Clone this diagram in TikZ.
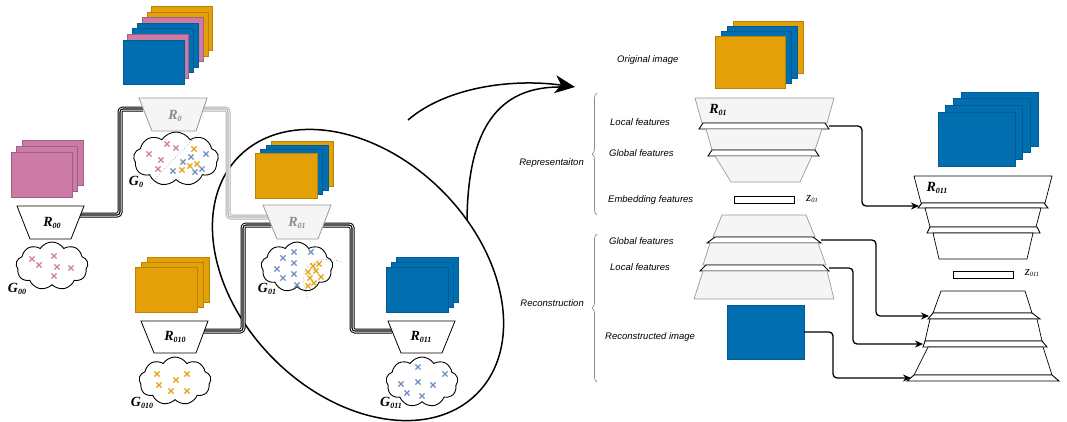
\documentclass[tikz,border=0pt]{standalone}
\usepackage{fontspec}
\setmainfont{Liberation Sans}
\newfontfamily\serifbi{Liberation Serif}
\usetikzlibrary{shapes.symbols,shapes.geometric,arrows.meta,decorations.pathreplacing,calc}
\definecolor{cblue}{HTML}{006EAF}
\definecolor{cblueD}{HTML}{005C94}
\definecolor{corange}{HTML}{E3A008}
\definecolor{corangeD}{HTML}{B98200}
\definecolor{cpink}{HTML}{CD7AA7}
\definecolor{cpinkD}{HTML}{A0607F}
\definecolor{xpink}{HTML}{D07AA6}
\definecolor{xblue}{HTML}{6C8EBF}
\definecolor{xorange}{HTML}{E5A00D}
\definecolor{lgray}{HTML}{F5F5F5}
\definecolor{mgray}{HTML}{8A8A8A}
\definecolor{egray}{HTML}{9A9A9A}
\newcommand\Rl[2]{{\serifbi\bfseries\itshape\fontsize{14}{14}\selectfont #1\raisebox{-1.8pt}{\fontsize{8}{8}\selectfont #2}}}
\newcommand\zl[1]{{\serifbi\itshape\fontsize{13}{13}\selectfont z\raisebox{-1pt}{\fontsize{6.5}{6.5}\selectfont #1}}}
\newcommand\dtxt{\fontsize{9.5}{11}\selectfont\itshape}
\begin{document}
\begin{tikzpicture}[x=1pt,y=-1pt,
  trW/.style={draw=black,fill=white,line width=0.8pt},
  trG/.style={draw=egray,fill=lgray,line width=0.8pt},
  secG/.style={draw=egray,fill=lgray,line width=0.7pt},
  secW/.style={draw=black,fill=white,line width=0.7pt},
  band/.style={draw=black,fill=white,line width=0.9pt},
  linkK/.style={draw=black,line width=1.1pt,rounded corners=3pt,
     preaction={draw=black,line width=5pt},preaction={draw=white,line width=3pt}},
  linkG/.style={draw=egray!80,line width=1.1pt,rounded corners=3pt,
     preaction={draw=egray!80,line width=5pt},preaction={draw=white,line width=3pt}},
  cloudS/.style={cloud,draw=black,fill=white,line width=0.9pt,cloud puffs=9,cloud puff arc=115,cloud ignores aspect,inner sep=0pt},
  arr/.style={draw=black,line width=1.3pt,rounded corners=4pt,-{Stealth[length=8pt,width=7pt]}},
  dlbl/.style={anchor=west,inner sep=0pt,font=\dtxt},
  lbl/.style={inner sep=0pt},
  xx/.pic={\draw[line width=1.2pt] (-2.6,-2.6)--(2.6,2.6) (-2.6,2.6)--(2.6,-2.6);}
]
\fill[white] (0,0) rectangle (1067,421);
\useasboundingbox (0,0) rectangle (1067,421);

% focus ellipse and the big arrow
\node[draw=black,line width=1.5pt,ellipse,rotate=-45,minimum width=336pt,minimum height=238pt,inner sep=0pt] (focus) at (358,275) {};
\coordinate (c1) at (408,120);
\coordinate (c2) at (467,220);
\coordinate (tip) at (575,87);
\coordinate (tip2) at (562,87);
\draw[line width=1.5pt,-{Stealth[length=20pt,width=18pt,inset=6pt]}] (c1) .. controls (445,88) and (510,78) .. (tip);
\draw[line width=1.5pt] (c2) .. controls (468,130) and (497,86) .. (tip2);

% ---------- tree: link connectors ----------
\coordinate (R0L) at (143,109);
\coordinate (R0R) at (203,109);
\coordinate (R00R) at (80,215);
\coordinate (R01Lg) at (268,217);
\coordinate (R01L) at (271,225);
\coordinate (R01R) at (323,225);
\coordinate (R010R) at (204,331);
\coordinate (R011L) at (392,331);
\draw[linkK] (R0L) -- (120,109) |- (R00R);
\draw[linkG] (R0R) -- (228,109) |- (R01Lg);
\draw[linkK] (R01L) -- (243,225) |- (R010R);
\draw[linkK] (R01R) -- (352,225) |- (R011L);

% ---------- tree: image stacks ----------
\foreach \f/\d [count=\i from 0] in {corange/corangeD,corange/corangeD,cpink/cpinkD,cblue/cblueD,cblue/cblueD,cpink/cpinkD,cblue/cblueD}
  \draw[fill=\f,draw=\d,line width=0.8pt] ({151.8-4.8*\i},{6.4+5.6*\i}) rectangle ++(61,44);
\foreach \i in {0,1,2}
  \draw[fill=cpink,draw=cpinkD,line width=0.8pt] ({22.4-5.7*\i},{140.6+5.7*\i}) rectangle ++(61,45);
\foreach \i in {0,1,2}
  \draw[fill=corange,draw=corangeD,line width=0.8pt] ({147-6*\i},{257+5*\i}) rectangle ++(62,45);
\foreach \f/\d [count=\i from 0] in {corange/corangeD,cblue/cblueD,cblue/cblueD,corange/corangeD}
  \draw[fill=\f,draw=\d,line width=0.8pt] ({271.8-5.6*\i},{141.3+3.9*\i}) rectangle ++(62,45);
\foreach \i in {0,1,2}
  \draw[fill=cblue,draw=cblueD,line width=0.8pt] ({396-5*\i},{257+5*\i}) rectangle ++(62,45);

% ---------- tree: trapezoids ----------
\draw[trG] (139,98)--(207,98)--(196,131)--(152,131)--cycle;
\draw[trW] (17,206)--(84,206)--(71,239)--(30,239)--cycle;
\draw[trG] (263,205)--(331,205)--(318,239)--(277,239)--cycle;
\draw[trW] (141,321)--(208,321)--(196,353)--(154,353)--cycle;
\draw[trW] (388,321)--(455,321)--(442,353)--(401,353)--cycle;
\node[lbl,text=mgray] (R0) at (175,116) {\Rl{R}{0}};
\node[lbl] (R00) at (52,223) {\Rl{R}{00}};
\node[lbl,text=mgray] (R01) at (297,223) {\Rl{R}{01}};
\node[lbl] (R010) at (175,337) {\Rl{R}{010}};
\node[lbl] (R011) at (421,337) {\Rl{R}{011}};

% ---------- tree: clouds ----------
\node[cloudS,minimum width=85pt,minimum height=54pt] (G0c) at (176,159) {};
\node[cloudS,minimum width=72pt,minimum height=48pt] (G00c) at (52,266) {};
\node[cloudS,minimum width=72pt,minimum height=48pt] (G010c) at (175,381) {};
\node[cloudS,minimum width=72pt,minimum height=50pt] (G01c) at (297,267) {};
\node[cloudS,minimum width=72pt,minimum height=50pt] (G011c) at (422,382) {};
\draw[mgray,line width=0.6pt,dotted] (150,184) -- (199,133);
\draw[mgray,line width=0.6pt,dotted] (342,262) .. controls (325,256) and (306,261) .. (304,274) .. controls (303,284) and (305,291) .. (307,297);

\foreach \p in {(167,144),(176,148),(149,154),(161,160),(158,169)} \pic[color=xpink] at \p {xx};
\foreach \p in {(206,154),(191,157),(183,162),(173,171),(202,169),(195,172)} \pic[color=xblue] at \p {xx};
\foreach \p in {(194,149),(182,170),(190,166),(197,164)} \pic[color=xorange] at \p {xx};
\foreach \p in {(32,259),(39,265),(54,256),(57,267),(71,268),(54,276)} \pic[color=xpink] at \p {xx};
\foreach \p in {(157,374),(159,385),(176,380),(171,391),(187,374),(187,391)} \pic[color=xorange] at \p {xx};
\foreach \p in {(283,258),(294,252),(311,252),(294,263),(277,269),(283,278),(294,274),(297,285)} \pic[color=xblue] at \p {xx};
\foreach \p in {(313,266),(319,264),(308,272),(316,271),(321,277),(310,278),(314,283),(308,286)} \pic[color=xorange] at \p {xx};
\foreach \p in {(418,367),(445,374),(401,384),(418,382),(433,385),(407,393),(422,396)} \pic[color=xblue] at \p {xx};

\node[lbl] (G0) at (136,182) {\Rl{G}{0}};
\node[lbl] (G00) at (17,289) {\Rl{G}{00}};
\node[lbl] (G010) at (142,403) {\Rl{G}{010}};
\node[lbl] (G01) at (267,289) {\Rl{G}{01}};
\node[lbl] (G011) at (391,403) {\Rl{G}{011}};

% ---------- right panel ----------
\foreach \f/\d [count=\i from 0] in {corange/corangeD,cblue/cblueD,cblue/cblueD,corange/corangeD}
  \draw[fill=\f,draw=\d,line width=0.8pt] ({733.3-6.1*\i},{21.6+4.8*\i}) rectangle ++(70,52);
\foreach \i in {0,1,2,3}
  \draw[fill=cblue,draw=cblueD,line width=0.8pt] ({961-7.7*\i},{92+6.7*\i}) rectangle ++(77,54);
\draw[fill=cblue,draw=cblueD,line width=0.8pt] (727,305) rectangle (804,359);

% R01 encoder
\draw[secG] (695,98)--(834,98)--(827,123)--(702,123)--cycle;
\draw[band] (703,123)--(825,123)--(829,129)--(699,129)--cycle;
\draw[secG] (706,129)--(822,129)--(815,150)--(712,150)--cycle;
\draw[band] (712,150)--(815,150)--(819,156)--(708,156)--cycle;
\draw[secG] (715,156)--(812,156)--(800,182)--(731,182)--cycle;
\node[lbl] (R01r) at (718,110) {\Rl{R}{01}};
\draw[draw=black,fill=white,line width=0.8pt] (734,196) rectangle (794,203);
\node[lbl] (z01) at (812,199) {\zl{01}};
% R01 decoder
\draw[secG] (722,215)--(806,215)--(815,237)--(713,237)--cycle;
\draw[band] (715,237)--(813,237)--(821,243)--(707,243)--cycle;
\draw[secG] (710,243)--(818,243)--(826,265)--(703,265)--cycle;
\draw[band] (706,265)--(823,265)--(829,271)--(700,271)--cycle;
\draw[secG] (703,271)--(827,271)--(834,299)--(694,299)--cycle;

% R011 encoder
\draw[secW] (914,176)--(1052,176)--(1045,203)--(921,203)--cycle;
\draw[band] (922,203)--(1044,203)--(1048,208)--(918,208)--cycle;
\draw[secW] (925,208)--(1041,208)--(1036,227)--(930,227)--cycle;
\draw[band] (930,227)--(1037,227)--(1040,233)--(927,233)--cycle;
\draw[secW] (933,233)--(1033,233)--(1027,259)--(939,259)--cycle;
\node[lbl] (R011r) at (937,188) {\Rl{R}{011}};
\draw[draw=black,fill=white,line width=0.8pt] (953,271) rectangle (1013,278);
\node[lbl] (z011) at (1032,273) {\zl{011}};
% R011 decoder
\draw[secW] (941,291)--(1025,291)--(1032,313)--(933,313)--cycle;
\draw[band] (933,313)--(1032,313)--(1040,319)--(928,319)--cycle;
\draw[secW] (930,319)--(1037,319)--(1042,341)--(925,341)--cycle;
\draw[band] (925,341)--(1042,341)--(1047,347)--(923,347)--cycle;
\draw[secW] (928,347)--(1043,347)--(1052,375)--(914,375)--cycle;
\draw[band] (914,375)--(1052,375)--(1059,381)--(907,381)--cycle;

% arrows between the two networks
\coordinate (a1s) at (829,126); \coordinate (a1e) at (919,206);
\coordinate (a2s) at (821,240); \coordinate (a2e) at (929,316);
\coordinate (a3s) at (829,268); \coordinate (a3e) at (923,344);
\coordinate (a4s) at (804,332); \coordinate (a4e) at (911,378);
\draw[arr] (a1s) -- (862,126) |- (a1e);
\draw[arr] (a2s) -- (876,240) |- (a2e);
\draw[arr] (a3s) -- (853,268) |- (a3e);
\draw[arr] (a4s) -- (833,332) |- (a4e);

% labels and braces
\node[dlbl] (t1) at (617,60) {Original image};
\node[dlbl] (t2) at (610,122) {Local features};
\node[dlbl] (t3) at (609,153) {Global features};
\node[dlbl] (t4) at (608,200) {Embedding features};
\node[dlbl] (t5) at (609,241) {Global features};
\node[dlbl] (t6) at (610,267) {Local features};
\node[dlbl] (t7) at (605,337) {Reconstructed image};
\draw[mgray,line width=0.7pt,decorate,decoration={brace,amplitude=5pt}] (597,215) -- (597,93) coordinate[midway] (brA);
\draw[mgray,line width=0.7pt,decorate,decoration={brace,amplitude=5pt}] (597,382) -- (597,234) coordinate[midway] (brB);
\node[anchor=east,inner sep=0pt,font=\dtxt] (rep) at (584,163) {Representaiton};
\node[anchor=east,inner sep=0pt,font=\dtxt] (rec) at (584,303) {Reconstruction};
\end{tikzpicture}
\end{document}
